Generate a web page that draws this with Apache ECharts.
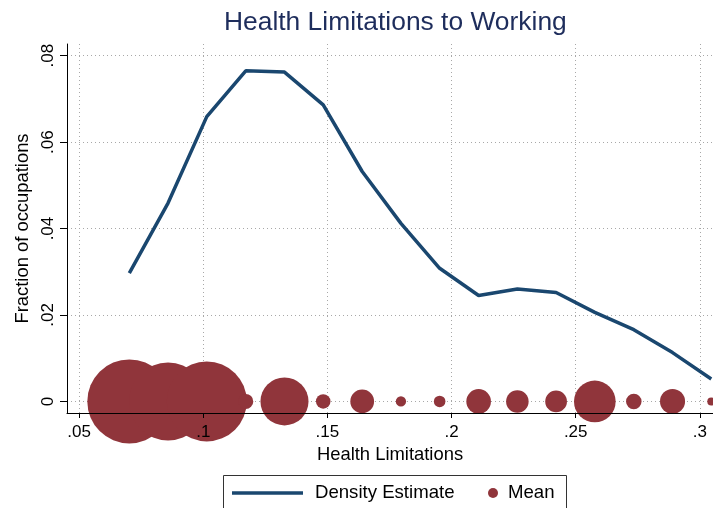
<!DOCTYPE html>
<html>
<head>
<meta charset="utf-8">
<script src="https://cdn.jsdelivr.net/npm/echarts@6/dist/echarts.min.js"></script>
<style>
html,body{margin:0;padding:0;background:#fff;}
#chart{width:713px;height:508px;}
</style>
</head>
<body>
<div id="chart"></div>
<script>
// Health limitation level for each occupation bin (x)
const healthLimit = [0.0702, 0.0858, 0.1014, 0.1171, 0.1327, 0.1483, 0.1640, 0.1796,
                     0.1952, 0.2109, 0.2265, 0.2421, 0.2577, 0.2734, 0.2890, 0.3046];
// Density estimate (fraction of occupations)
const densityEstimate = [0.0297, 0.0459, 0.0659, 0.0765, 0.0762, 0.0686, 0.0532, 0.0412,
                         0.0308, 0.0245, 0.0260, 0.0252, 0.0206, 0.0166, 0.0113, 0.0052];
// Mean markers sit at zero; their weights set the marker area
const meanLevel = [0, 0, 0, 0, 0, 0, 0, 0, 0, 0, 0, 0, 0, 0, 0, 0];
const meanWeight = [100, 86.2, 90.7, 3.2, 32.7, 3.0, 8.0, 1.5,
                    1.9, 8.6, 7.2, 6.7, 24.6, 3.4, 8.9, 0.9];
// Tick values
const xTicks = [0.05, 0.1, 0.15, 0.2, 0.25, 0.3];
const yTicks = [0, 0.02, 0.04, 0.06, 0.08];

const FONT = "'Liberation Sans', Arial, Helvetica, sans-serif";
const NAVY = '#1a476f';
const MAROON = '#90353b';
const fmt = v => {
  if (Math.abs(v) < 1e-12) return '0';
  return String(+v.toFixed(4)).replace(/^0\./, '.');
};

const lineData = healthLimit.map((x, i) => [x, densityEstimate[i]]);
const meanData = healthLimit.map((x, i) => [x, meanLevel[i], meanWeight[i]]);

const X_MIN = 0.0451, X_MAX = 0.3053;
const gridLine = {show: true, lineStyle: {color: '#a8a8a8', type: [1, 3], width: 1}};

const chart = echarts.init(document.getElementById('chart'), null, {renderer: 'canvas'});
chart.setOption({
  animation: false,
  backgroundColor: '#fff',
  textStyle: {fontFamily: FONT},
  title: {
    text: 'Health Limitations to Working',
    left: 224, top: 10, padding: 0,
    textStyle: {fontFamily: FONT, fontSize: 26.4, fontWeight: 'normal', color: '#1e2d5c'}
  },
  grid: {left: 67, top: 44, right: 0, bottom: 95, containLabel: false},
  legend: [
    {
      data: [{name: 'Density Estimate', icon: 'rect'}],
      left: 232, top: 483.5, padding: 0,
      itemWidth: 71, itemHeight: 3.5,
      textStyle: {fontFamily: FONT, fontSize: 18.6, color: '#000', padding: [0, 0, 0, 7]}
    },
    {
      data: [{name: 'Mean', icon: 'circle'}],
      left: 488, top: 483.5, padding: 0,
      itemWidth: 10, itemHeight: 10,
      textStyle: {fontFamily: FONT, fontSize: 18.6, color: '#000', padding: [0, 0, 0, 5]}
    }
  ],
  graphic: [{
    type: 'rect',
    shape: {x: 223.5, y: 475.5, width: 343, height: 45},
    style: {fill: 'none', stroke: '#333', lineWidth: 1},
    silent: true
  }],
  xAxis: [
    {
      // grid lines only, beneath the markers
      type: 'value', min: X_MIN, max: X_MAX, z: 0,
      axisLine: {show: false}, axisTick: {show: false, customValues: xTicks},
      axisLabel: {show: false, customValues: xTicks},
      splitLine: gridLine
    },
    {
      // axis line, ticks and labels drawn over the markers
      type: 'value', min: X_MIN, max: X_MAX, z: 10,
      position: 'bottom',
      name: 'Health Limitations',
      nameLocation: 'middle', nameGap: 31,
      nameTextStyle: {fontFamily: FONT, fontSize: 18.4, color: '#000'},
      axisLine: {show: true, onZero: false, lineStyle: {color: '#000', width: 1}},
      axisTick: {show: true, length: 5, lineStyle: {color: '#000'}, customValues: xTicks},
      axisLabel: {fontFamily: FONT, fontSize: 17, color: '#000', margin: 11,
                  customValues: xTicks, formatter: fmt},
      splitLine: {show: false}
    }
  ],
  yAxis: {
    type: 'value',
    min: -0.00268, max: 0.0827,
    name: 'Fraction of occupations',
    nameLocation: 'middle', nameGap: 33,
    nameTextStyle: {fontFamily: FONT, fontSize: 18.4, color: '#000'},
    axisLine: {show: true, onZero: false, lineStyle: {color: '#000', width: 1}},
    axisTick: {show: true, length: 7, lineStyle: {color: '#000'}, customValues: yTicks},
    axisLabel: {fontFamily: FONT, fontSize: 17, color: '#000', margin: 10, rotate: 90,
                customValues: yTicks, formatter: fmt},
    splitLine: gridLine
  },
  series: [
    {
      name: 'Density Estimate',
      type: 'line',
      xAxisIndex: 0,
      data: lineData,
      symbol: 'none',
      lineStyle: {color: NAVY, width: 3.5},
      itemStyle: {color: NAVY},
      z: 2
    },
    {
      name: 'Mean',
      type: 'scatter',
      xAxisIndex: 0,
      data: meanData,
      symbol: 'circle',
      symbolSize: v => 8.4 * Math.sqrt(v[2]),
      itemStyle: {color: MAROON, opacity: 1},
      clip: false,
      z: 3
    }
  ]
});
</script>
</body>
</html>
